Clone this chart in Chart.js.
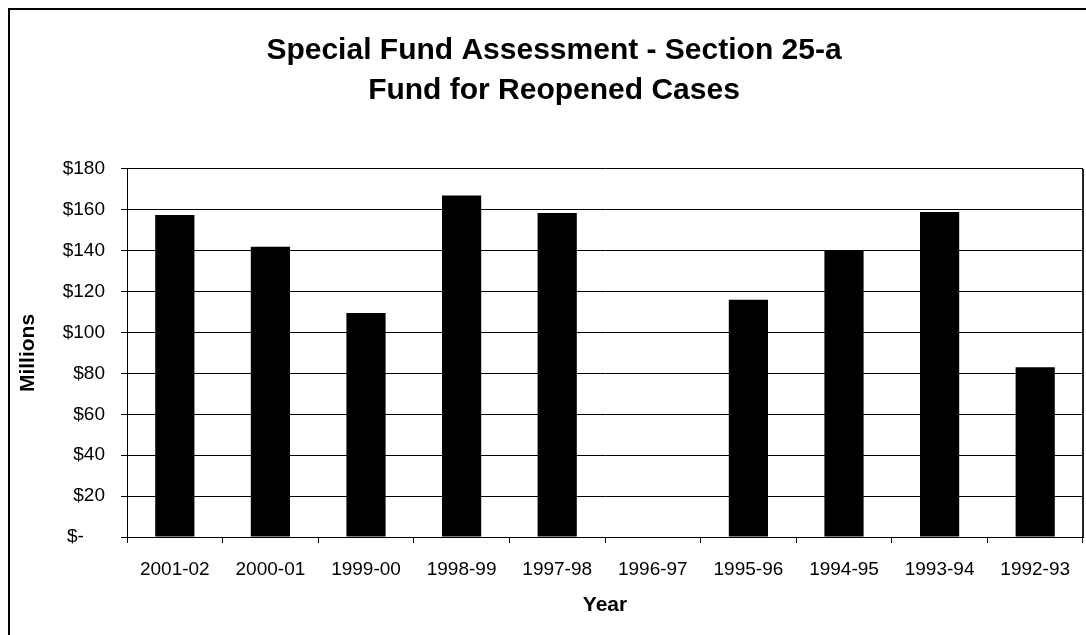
<!DOCTYPE html>
<html>
<head>
<meta charset="utf-8">
<script src="https://cdn.jsdelivr.net/npm/chart.js@4/dist/chart.umd.min.js"></script>
<style>
  html, body { margin: 0; padding: 0; background: #fff; overflow: hidden; }
  #wrap { position: absolute; left: 0; top: 0; width: 1100px; height: 650px; }
</style>
</head>
<body>
<div id="wrap"><canvas id="c" width="1100" height="650"></canvas></div>
<script>
const categories = ['2001-02', '2000-01', '1999-00', '1998-99', '1997-98', '1996-97', '1995-96', '1994-95', '1993-94', '1992-93'];
const assessments = [157.5, 142, 109.6, 167, 158.5, 0, 116, 140, 159, 83];
const titleLines = ['Special Fund Assessment - Section 25-a', 'Fund for Reopened Cases'];
const yTitle = 'Millions';
const xTitle = 'Year';
const yMin = 0, yMax = 180, yStep = 20;

const FONT = "'Liberation Sans', Arial, sans-serif";

const framePlugin = {
  id: 'frame',
  afterDraw(chart) {
    const ctx = chart.ctx;
    const a = chart.chartArea;
    ctx.save();
    // outer chart frame
    ctx.strokeStyle = '#000';
    ctx.lineWidth = 2;
    ctx.strokeRect(9, 9, chart.width - 18, chart.height - 18);
    // plot area right edge
    ctx.strokeStyle = '#222';
    ctx.lineWidth = 2;
    ctx.beginPath();
    ctx.moveTo(a.right, a.top);
    ctx.lineTo(a.right, a.bottom);
    ctx.stroke();
    ctx.restore();
  }
};

new Chart(document.getElementById('c'), {
  type: 'bar',
  data: {
    labels: categories,
    datasets: [{
      data: assessments,
      backgroundColor: '#000',
      borderColor: '#000',
      borderWidth: 0,
      barPercentage: 1,
      categoryPercentage: 0.41
    }]
  },
  options: {
    responsive: false,
    animation: false,
    devicePixelRatio: 1,
    layout: { padding: { left: 25, right: 17, top: 0, bottom: 0 } },
    plugins: {
      legend: { display: false },
      tooltip: { enabled: false },
      title: {
        display: true,
        text: titleLines,
        color: '#000',
        font: { family: FONT, size: 30, weight: 'bold', lineHeight: 1.3333 },
        padding: { top: 31, bottom: 58 }
      }
    },
    scales: {
      x: {
        afterFit(scale) { scale.height = 113; },
        grid: { drawOnChartArea: false, drawTicks: true, tickLength: 6, tickColor: '#000', color: '#000', offset: true },
        border: { display: true, color: '#000', width: 1 },
        ticks: { color: '#000', font: { family: FONT, size: 19 }, padding: 15, maxRotation: 0, autoSkip: false },
        title: { display: true, text: xTitle, color: '#000', font: { family: FONT, size: 21, weight: 'bold', lineHeight: 1.2 }, padding: { top: 0, bottom: 32 } }
      },
      y: {
        min: yMin, max: yMax,
        afterFit(scale) { scale.width = 102; },
        grid: { color: '#000', lineWidth: 1, drawTicks: true, tickLength: 6, tickColor: '#000' },
        border: { display: true, color: '#000', width: 1 },
        ticks: {
          stepSize: yStep,
          color: '#000',
          font: { family: FONT, size: 19 },
          padding: 16,
          callback: (v) => v === 0 ? '$-    ' : '$' + v
        },
        title: { display: true, text: yTitle, color: '#000', font: { family: FONT, size: 21, weight: 'bold', lineHeight: '6px' }, padding: { top: 0, bottom: 0 } }
      }
    }
  },
  plugins: [framePlugin]
});
</script>
</body>
</html>
